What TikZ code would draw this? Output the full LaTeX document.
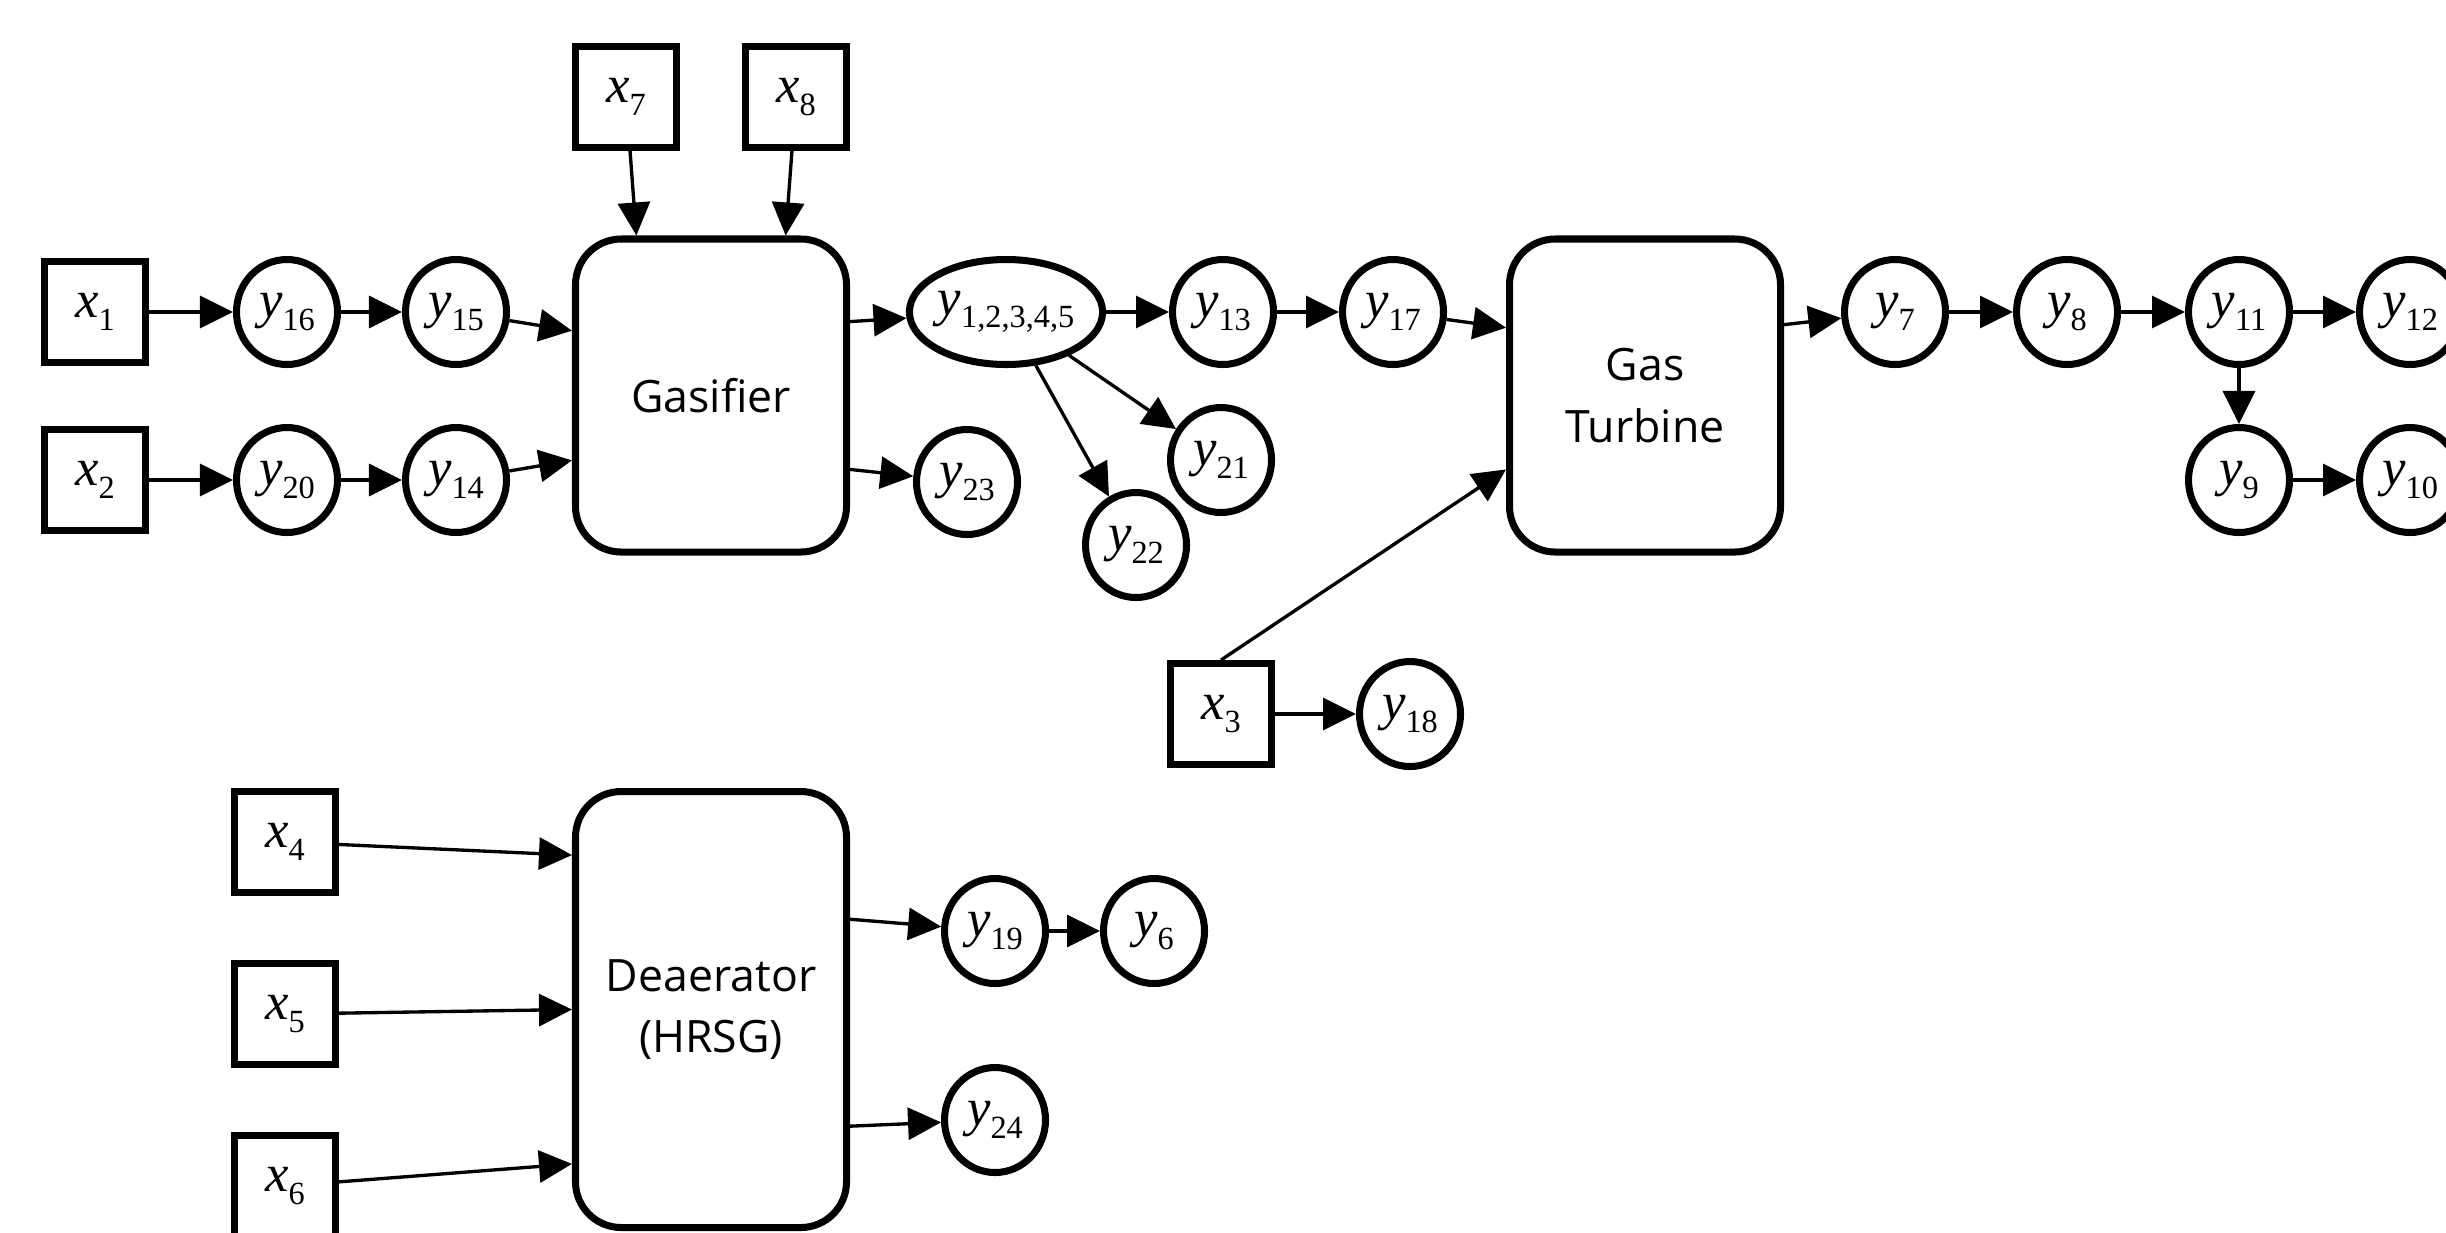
\documentclass[tikz,border=0pt]{standalone}
\usepackage{fontspec}
\setmainfont{Liberation Serif}
\newfontfamily\blockfont{Open Sans}
\usetikzlibrary{shapes.geometric, arrows.meta, positioning}
\newcommand{\vlab}[2]{\textit{#1}\raisebox{-3.6pt}{\fontsize{9.2}{10}\selectfont #2}}
\tikzset{
  unit/.style={rectangle, draw=black, fill=white, minimum width=2.71cm,
    minimum height=3.13cm, rounded corners=13pt, line width=2pt,
    align=center, font=\blockfont\fontsize{12.7}{17.6}\selectfont},
  invar/.style={rectangle, draw=black, minimum size=1.01cm, inner sep=0pt,
    line width=2pt, font=\fontsize{15}{17}\selectfont},
  outvar/.style={ellipse, draw=black, minimum width=1.01cm, minimum height=1.05cm,
    inner sep=0pt, line width=2pt, font=\fontsize{15}{17}\selectfont},
  arrow/.style={-{Triangle[length=3.3mm, width=3.2mm]}, line width=0.95pt}
}
\begin{document}
\begin{tikzpicture}
  \useasboundingbox (0,0) rectangle (24.46,-12.32);
  % Gasifier and its inputs
  \node[unit] (gasif) at (7.11,-3.955) {Gasifier};
  \node[invar] (x7) at (6.26,-0.97) {\vlab{x}{7}};
  \node[invar] (x8) at (7.96,-0.97) {\vlab{x}{8}};
  \node[invar] (x1) at (0.95,-3.12) {\vlab{x}{1}};
  \node[invar] (x2) at (0.95,-4.80) {\vlab{x}{2}};
  \node[outvar] (y16) at (2.87,-3.12) {\vlab{y}{16}};
  \node[outvar] (y15) at (4.56,-3.12) {\vlab{y}{15}};
  \node[outvar] (y20) at (2.87,-4.80) {\vlab{y}{20}};
  \node[outvar] (y14) at (4.56,-4.80) {\vlab{y}{14}};
  \draw[arrow] (x1) -- (y16);
  \draw[arrow] (y16) -- (y15);
  \draw[arrow] (y15) -- (gasif.155);
  \draw[arrow] (x2) -- (y20);
  \draw[arrow] (y20) -- (y14);
  \draw[arrow] (y14) -- (gasif.205);
  \draw[arrow] (x7) -- (gasif.115);
  \draw[arrow] (x8) -- (gasif.65);

  % Gasifier outputs
  \node[outvar, minimum width=1.88cm] (y12345) at (10.06,-3.12) {\vlab{y}{1,2,3,4,5}};
  \node[outvar] (y13) at (12.23,-3.12) {\vlab{y}{13}};
  \node[outvar] (y17) at (13.93,-3.12) {\vlab{y}{17}};
  \node[outvar] (y23) at (9.67,-4.82) {\vlab{y}{23}};
  \node[outvar] (y21) at (12.21,-4.60) {\vlab{y}{21}};
  \node[outvar] (y22) at (11.36,-5.45) {\vlab{y}{22}};
  \draw[arrow] (gasif.28) -- (y12345);
  \draw[arrow] (gasif.-28) -- (y23);
  \draw[arrow] (y12345) -- (y13);
  \draw[arrow] (y13) -- (y17);
  \draw[arrow] (y12345) -- (y21);
  \draw[arrow] (y12345) -- (y22);

  % Gas turbine
  \node[unit] (gt) at (16.45,-3.955) {Gas\\Turbine};
  \node[invar] (x3) at (12.21,-7.14) {\vlab{x}{3}};
  \node[outvar] (y18) at (14.10,-7.14) {\vlab{y}{18}};
  \node[outvar] (y7) at (18.95,-3.12) {\vlab{y}{7}};
  \node[outvar] (y8) at (20.67,-3.12) {\vlab{y}{8}};
  \node[outvar] (y11) at (22.39,-3.12) {\vlab{y}{11}};
  \node[outvar] (y12) at (24.10,-3.12) {\vlab{y}{12}};
  \node[outvar] (y9) at (22.39,-4.80) {\vlab{y}{9}};
  \node[outvar] (y10) at (24.10,-4.80) {\vlab{y}{10}};
  \draw[arrow] (y17) -- (gt.154);
  \draw[arrow] (x3.north) -- (gt.208);
  \draw[arrow] (x3) -- (y18);
  \draw[arrow] (gt.27) -- (y7);
  \draw[arrow] (y7) -- (y8);
  \draw[arrow] (y8) -- (y11);
  \draw[arrow] (y11) -- (y12);
  \draw[arrow] (y11) -- (y9);
  \draw[arrow] (y9) -- (y10);

  % Deaerator (HRSG)
  \node[unit, minimum height=4.36cm] (dea) at (7.11,-10.095) {Deaerator\\(HRSG)};
  \node[invar] (x4) at (2.85,-8.42) {\vlab{x}{4}};
  \node[invar] (x5) at (2.85,-10.14) {\vlab{x}{5}};
  \node[invar] (x6) at (2.85,-11.86) {\vlab{x}{6}};
  \node[outvar] (y19) at (9.95,-9.31) {\vlab{y}{19}};
  \node[outvar] (y6) at (11.54,-9.31) {\vlab{y}{6}};
  \node[outvar] (y24) at (9.95,-11.20) {\vlab{y}{24}};
  \draw[arrow] (x4) -- (dea.132);
  \draw[arrow] (x5) -- (dea.west);
  \draw[arrow] (x6) -- (dea.228);
  \draw[arrow] (dea.33) -- (y19);
  \draw[arrow] (y19) -- (y6);
  \draw[arrow] (dea.-40) -- (y24);
\end{tikzpicture}
\end{document}
